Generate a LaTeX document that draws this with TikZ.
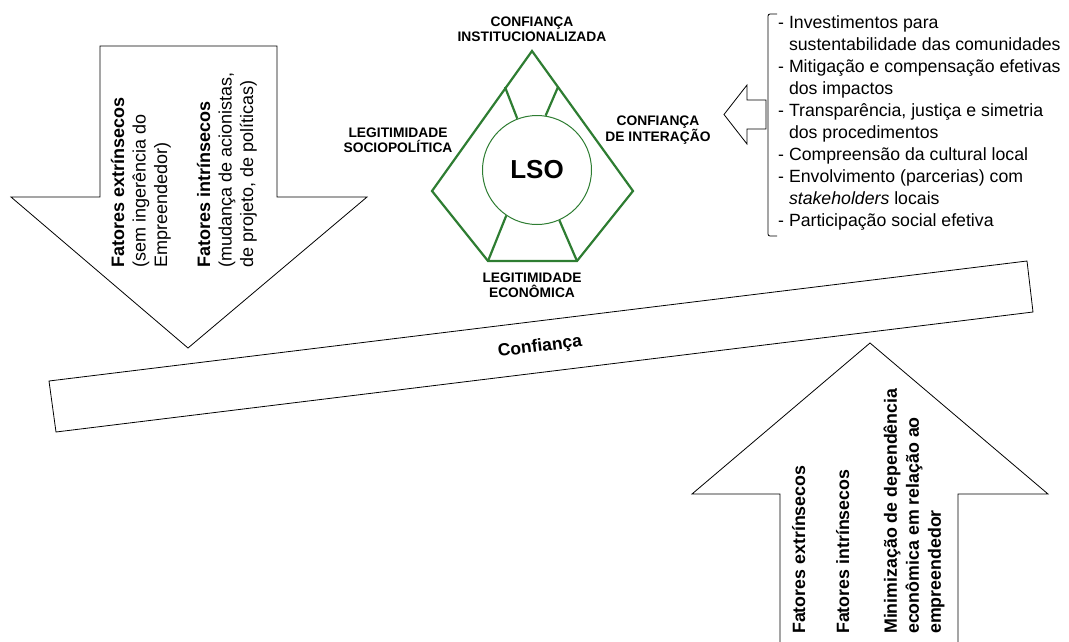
\documentclass[tikz,border=0pt]{standalone}
\usepackage{fontspec}
\setmainfont{Liberation Sans}
\usepackage{tikz}
\definecolor{lsogreen}{RGB}{46,125,50}
\newcommand{\listindent}{\hphantom{-\ }}
\tikzset{
  dimlabel/.style={align=center, font=\fontsize{13.8}{15}\selectfont\bfseries},
  arrowtext/.style={rotate=90, anchor=west, align=left, inner sep=0pt},
  outline/.style={line width=0.8pt, line join=miter},
  pentagonline/.style={lsogreen, line width=2.2pt, line join=miter}
}

\begin{document}
\begin{tikzpicture}[x=1pt, y=-1pt]
\useasboundingbox (0,0) rectangle (1069,641);

%arrow down (left)
\draw[outline] (100,46) -- (277,46) -- (277,197) -- (367,197) -- (188,348) -- (11,197) -- (100,197) -- cycle;

%arrow up (right)
\draw[outline] (780,650) -- (780,494) -- (692,494) -- (870,343) -- (1048,494) -- (958,494) -- (958,650);

%bar
\draw[outline] (49,381) -- (1027,261) -- (1033,312) -- (56,432) -- cycle;
\node[rotate=7, font=\fontsize{17.5}{20}\selectfont\bfseries] (confianca) at (540,347) {Confiança};

%pentagon
\coordinate (top) at (532,51);
\coordinate (right) at (633,191);
\coordinate (br) at (577,261);
\coordinate (bl) at (488,261);
\coordinate (left) at (432,191);
\draw[pentagonline] (top) -- (right) -- (br) -- (bl) -- (left) -- cycle;
\node[circle, draw=lsogreen, line width=1pt, minimum size=109pt, inner sep=0pt,
  font=\fontsize{26}{30}\selectfont\bfseries] (lso) at (537,170) {LSO};

%spokes
\draw[pentagonline] (505,87) -- (lso.111);
\draw[pentagonline] (558,87) -- (lso.81);
\draw[pentagonline] (lso.236) -- (bl);
\draw[pentagonline] (lso.294) -- (br);

%names of pentagon sides
\node[dimlabel] (inst) at (532,29.5) {CONFIANÇA\\INSTITUCIONALIZADA};
\node[dimlabel] (socio) at (398,140) {LEGITIMIDADE\\SOCIOPOLÍTICA};
\node[dimlabel] (inter) at (658,130.5) {CONFIANÇA\\DE INTERAÇÃO};
\node[dimlabel] (econ) at (532,285.5) {LEGITIMIDADE\\ECONÔMICA};

%text of arrow down
\node[arrowtext, font=\fontsize{18}{21.5}\selectfont] (extrdown) at (141,268)
  {\textbf{Fatores extrínsecos}\\(sem ingerência do\\Empreendedor)};
\node[arrowtext, font=\fontsize{18}{21.5}\selectfont] (intrdown) at (227,268)
  {\textbf{Fatores intrínsecos}\\(mudança de acionistas,\\de projeto, de políticas)};

%text of arrow up
\node[arrowtext, anchor=base west, font=\fontsize{17.8}{22}\selectfont\bfseries] (extrup) at (805,634)
  {Fatores extrínsecos};
\node[arrowtext, anchor=base west, font=\fontsize{17.8}{22}\selectfont\bfseries] (intrup) at (849,634)
  {Fatores intrínsecos};
\node[arrowtext, font=\fontsize{17.8}{22}\selectfont\bfseries] (minup) at (914,634)
  {Minimização de dependência\\econômica em relação ao\\empreendedor};

%list and bracket
\draw[line width=0.8pt, rounded corners=2pt] (777,14) -- (768,14) -- (768,236) -- (777,236);
\draw[outline] (766,100) -- (747,100) -- (747,85) -- (724,114.5) -- (747,144) -- (747,129) -- (766,129) -- cycle;
\node[anchor=west, align=left, inner sep=0pt, font=\fontsize{17.7}{21.9}\selectfont] (actions) at (778,123)
  {- Investimentos para\\
   \listindent sustentabilidade das comunidades\\
   - Mitigação e compensação efetivas\\
   \listindent dos impactos\\
   - Transparência, justiça e simetria\\
   \listindent dos procedimentos\\
   - Compreensão da cultural local\\
   - Envolvimento (parcerias) com\\
   \listindent\textit{stakeholders} locais\\
   - Participação social efetiva};

\end{tikzpicture}
\end{document}
